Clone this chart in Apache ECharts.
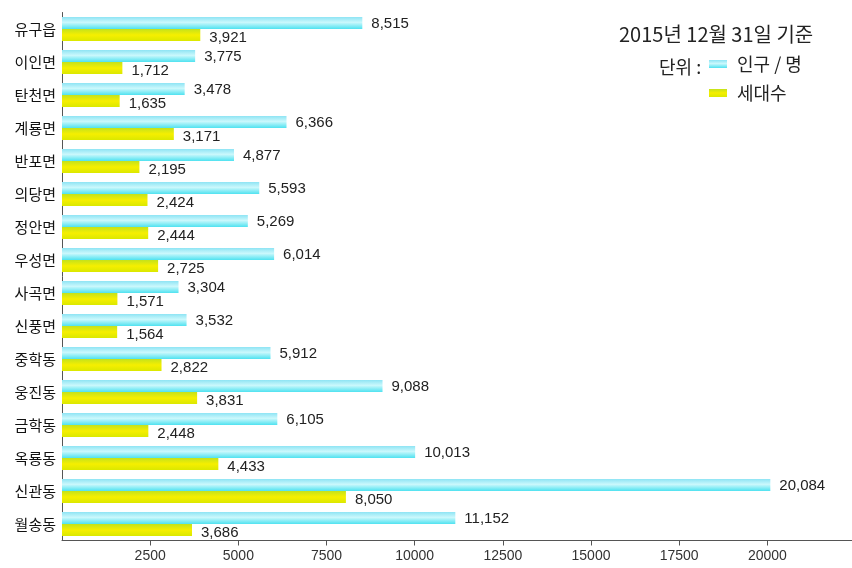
<!DOCTYPE html>
<html>
<head>
<meta charset="utf-8">
<script src="https://cdn.jsdelivr.net/npm/echarts@6/dist/echarts.min.js"></script>
<style>
html,body{margin:0;padding:0;background:#fff;}
#c{width:852px;height:568px;}
</style>
</head>
<body>
<div id="c"></div>
<script>
// Data (top to bottom as in the picture)
const categories = ['유구읍','이인면','탄천면','계룡면','반포면','의당면','정안면','우성면','사곡면','신풍면','중학동','웅진동','금학동','옥룡동','신관동','월송동'];
const population = [8515,3775,3478,6366,4877,5593,5269,6014,3304,3532,5912,9088,6105,10013,20084,11152];
const households = [3921,1712,1635,3171,2195,2424,2444,2725,1571,1564,2822,3831,2448,4433,8050,3686];
const xTicks = [2500,5000,7500,10000,12500,15000,17500,20000];
const titleText = '2015년 12월 31일 기준';
const unitText = '단위 :';
const seriesNames = ['인구 / 명','세대수'];

const numFont = '"Liberation Sans","Arial",sans-serif';
const narrowFont = '"Liberation Sans Narrow","Liberation Sans",sans-serif';
const krFont = '"Noto Sans CJK KR","Noto Sans",sans-serif';

const cyanGrad = new echarts.graphic.LinearGradient(0,0,0,1,[
  {offset:0,color:'#8ee4f4'},{offset:0.45,color:'#cbf8fc'},{offset:1,color:'#4fe2f0'}]);
const yellowGrad = new echarts.graphic.LinearGradient(0,0,0,1,[
  {offset:0,color:'#c4e21c'},{offset:0.5,color:'#f6ef00'},{offset:1,color:'#dbe800'}]);

const fmt = v => v.toLocaleString('en-US');

const chart = echarts.init(document.getElementById('c'));
chart.setOption({
  animation:false,
  backgroundColor:'#fff',
  title:[
    {text:titleText,left:614,top:19,textStyle:{fontFamily:krFont,fontSize:20,fontWeight:'normal',color:'#222'}},
    {text:unitText,left:654,top:53,textStyle:{fontFamily:krFont,fontSize:18,fontWeight:'normal',color:'#222'}}
  ],
  legend:{
    orient:'vertical',left:709,top:55,itemWidth:18,itemHeight:8,itemGap:11,
    icon:'rect',padding:0,
    textStyle:{fontFamily:krFont,fontSize:18,lineHeight:18,color:'#222',padding:[0,0,0,5]},
    data:seriesNames
  },
  grid:{left:62,right:0,top:12.5,bottom:27.5},
  xAxis:{
    type:'value',min:0,max:22400,interval:2500,
    splitLine:{show:false},
    axisLine:{show:true,lineStyle:{color:'#555',width:1}},
    axisTick:{show:true,length:5,lineStyle:{color:'#555'},customValues:xTicks},
    axisLabel:{fontFamily:narrowFont,fontSize:14,color:'#333',margin:9,customValues:xTicks,
      formatter:v => String(v)}
  },
  yAxis:{
    type:'category',inverse:true,data:categories,
    axisLine:{show:true,lineStyle:{color:'#555',width:1}},
    axisTick:{show:false},
    axisLabel:{fontFamily:krFont,fontSize:15,color:'#111',margin:6}
  },
  series:[
    {name:seriesNames[0],type:'bar',data:population,barWidth:12,barGap:'0%',
     itemStyle:{color:cyanGrad},
     label:{show:true,position:'right',distance:9,offset:[0,1],formatter:p=>fmt(p.value),
       fontFamily:numFont,fontSize:15,color:'#222'}},
    {name:seriesNames[1],type:'bar',data:households,barWidth:12,
     itemStyle:{color:yellowGrad},
     label:{show:true,position:'right',distance:9,offset:[0,3],formatter:p=>fmt(p.value),
       fontFamily:numFont,fontSize:15,color:'#222'}}
  ]
});
</script>
</body>
</html>
